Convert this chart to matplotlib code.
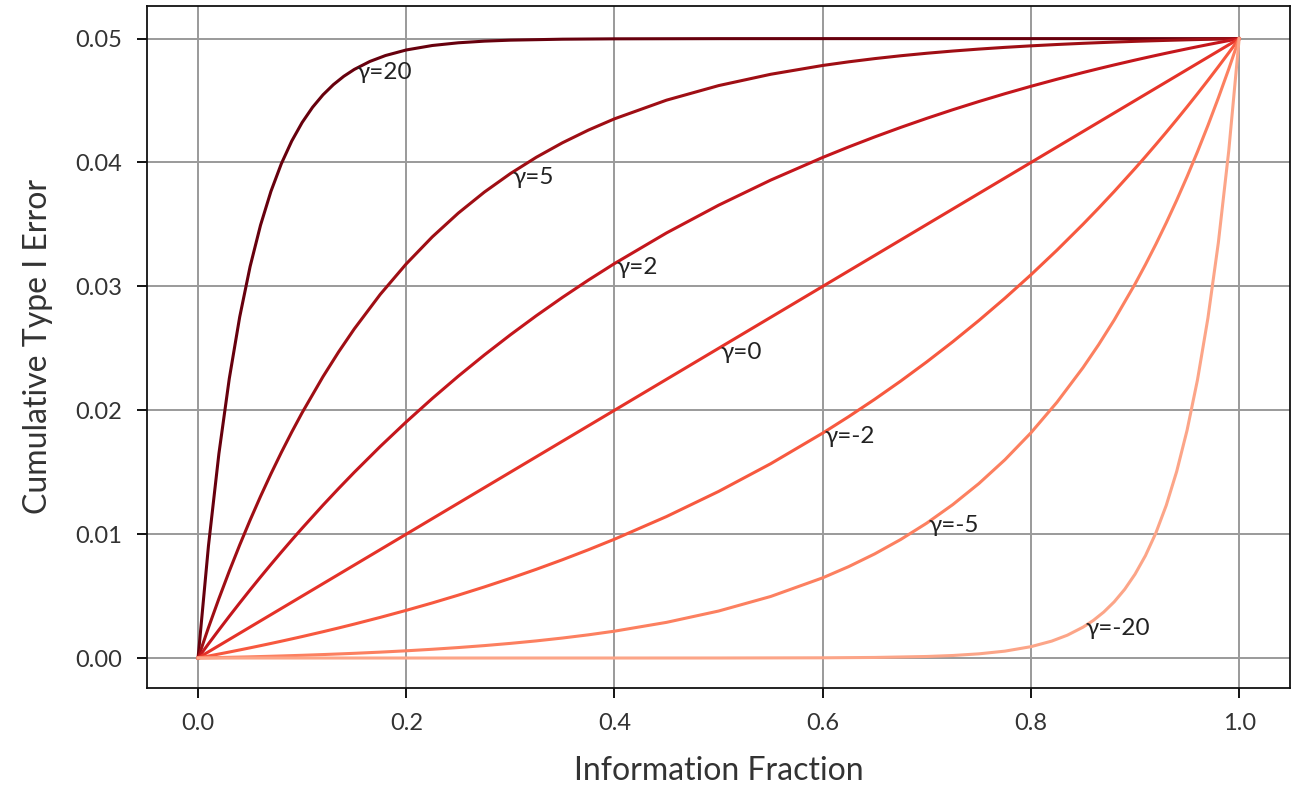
import matplotlib
matplotlib.use("Agg")
import matplotlib.pyplot as plt
import numpy as np

plt.rcParams['font.family'] = ['Lato', 'DejaVu Sans']

# information fraction grids
t_common = [0, .01, .02, .03, .04, .05, .06, .07, .08, .09, .10, .12, .135, .15, .175,
            .20, .225, .25, .275, .30, .325, .35, .375, .40, .45, .50, .55, .60, .625,
            .65, .675, .70, .725, .75, .775, .80, .825, .85, .865, .88, .90, .91, .92,
            .93, .94, .95, .96, .97, .98, .99, 1.0]
t_g20 = [0, .01, .02, .03, .04, .05, .06, .07, .08, .09, .10, .11, .12, .13, .14, .15,
         .165, .18, .20, .225, .25, .275, .30, .35, .40, .50, .60, 1.0]
t_gm20 = [0, .40, .50, .60, .65, .70, .725, .75, .775, .80, .82, .835, .85, .86, .87,
          .88, .89, .90, .91, .92, .93, .94, .95, .96, .97, .98, .99, 1.0]
t_g0 = [0, 1.0]

# cumulative type I error
err_g20 = [0, .009063, .016484, .022559, .027534, .031606, .034940, .037670, .039905,
           .041735, .043233, .044460, .045464, .046286, .046960, .047511, .048156,
           .048634, .049084, .049445, .049663, .049796, .049876, .049954, .049983,
           .049998, .05, .05]
err_g5 = [0, .002455, .004790, .007012, .009125, .011135, .013047, .014866, .016596,
          .018241, .019807, .022712, .024709, .026561, .029355, .031820, .033996,
          .035917, .037611, .039107, .040427, .041592, .042619, .043526, .045033,
          .046207, .047121, .047833, .048127, .048387, .048617, .048819, .048998,
          .049155, .049294, .049417, .049525, .049621, .049672, .049721, .049780,
          .049807, .049833, .049858, .049881, .049904, .049925, .049945, .049964,
          .049983, .05]
err_g2 = [0, .001145, .002267, .003368, .004446, .005503, .006539, .007555, .008550,
          .009526, .010482, .012339, .013683, .014988, .017077, .019064, .020954,
          .022753, .024463, .026090, .027638, .029110, .030511, .031843, .034316,
          .036553, .038578, .040409, .041258, .042067, .042835, .043566, .044262,
          .044923, .045553, .046151, .046720, .047262, .047574, .047877, .048267,
          .048456, .048642, .048824, .049002, .049177, .049348, .049516, .049680,
          .049842, .05]
err_g0 = [0, .05]
err_gm2 = [0, .000158, .000320, .000484, .000652, .000823, .000998, .001176, .001358,
           .001544, .001733, .002123, .002426, .002738, .003280, .003849, .004447,
           .005077, .005738, .006434, .007165, .007933, .008742, .009591, .011422,
           .013447, .015684, .018157, .019489, .020890, .022362, .023910, .025537,
           .027247, .029046, .030936, .032923, .035012, .036317, .037661, .039518,
           .040474, .041450, .042445, .043461, .044497, .045554, .046632, .047733,
           .048855, .05]
err_gm5 = [0, .000017, .000036, .000055, .000075, .000096, .000119, .000142, .000167,
           .000193, .000220, .000279, .000328, .000379, .000475, .000583, .000706,
           .000845, .001002, .001181, .001383, .001613, .001873, .002167, .002879,
           .003793, .004967, .006474, .007381, .008408, .009573, .010893, .012389,
           .014083, .016004, .018180, .020645, .023439, .025291, .027288, .030193,
           .031759, .033404, .035134, .036953, .038865, .040875, .042988, .045210,
           .047545, .05]
err_gm20 = [0, 0, .000002, .000017, .000046, .000124, .000204, .000337, .000555,
            .000916, .001366, .001844, .002489, .003040, .003714, .004536, .005540,
            .006767, .008265, .010095, .012330, .015060, .018394, .022466, .027441,
            .033516, .040937, .05]

gammas = [20, 5, 2, 0, -2, -5, -20]
curves = [(t_g20, err_g20), (t_common, err_g5), (t_common, err_g2), (t_g0, err_g0),
          (t_common, err_gm2), (t_common, err_gm5), (t_gm20, err_gm20)]
label_t = [0.152, 0.302, 0.402, 0.502, 0.602, 0.702, 0.852]
label_y = [0.0473, 0.0388, 0.0315, 0.0247, 0.0179, 0.0107, 0.0024]

colors = plt.cm.Reds(np.linspace(1.0, 0.32, len(gammas)))

fig = plt.figure(figsize=(12.99, 7.87), dpi=100)
ax = fig.add_axes([0.1132, 0.1258, 0.8800, 0.8670])

for (t, e), g, c, lt, ly in zip(curves, gammas, colors, label_t, label_y):
    ax.plot(t, e, color=c, lw=2.2, zorder=3)
    ax.text(lt, ly, f"γ={g}", ha='left', va='center', fontsize=17.5,
            color='#222222', zorder=4)

ax.set_xlim(-0.049, 1.049)
ax.set_ylim(-0.00242, 0.05266)
ax.set_xticks(np.arange(0, 1.01, 0.2))
ax.set_yticks(np.arange(0, 0.051, 0.01))
ax.set_xticklabels([f"{v:.1f}" for v in np.arange(0, 1.01, 0.2)])
ax.set_yticklabels([f"{v:.2f}" for v in np.arange(0, 0.051, 0.01)])
ax.grid(True, color='#9a9a9a', lw=1.4, zorder=0)
ax.tick_params(direction='out', length=7, width=1.3, labelsize=17,
               labelcolor='#333333', pad=11)
for s in ax.spines.values():
    s.set_linewidth(1.3)
    s.set_color('#111111')

ax.set_xlabel("Information Fraction", fontsize=23, color='#333333', labelpad=16)
ax.set_ylabel("Cumulative Type I Error", fontsize=23, color='#333333', labelpad=16)

fig.savefig("out.png", dpi=100)
